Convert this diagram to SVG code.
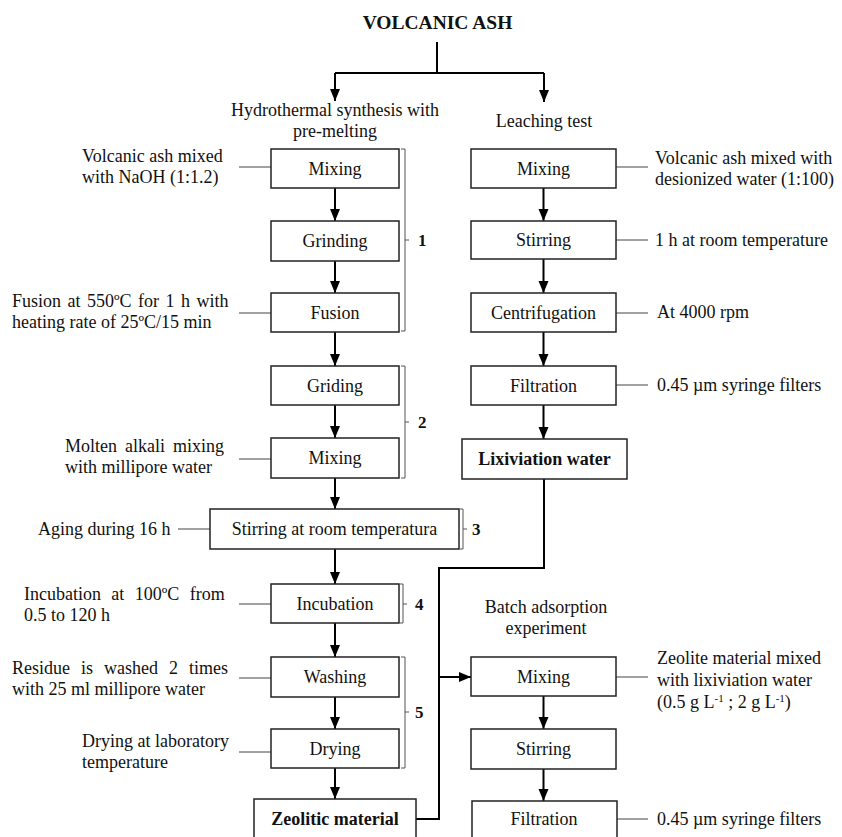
<svg xmlns="http://www.w3.org/2000/svg" width="842" height="837" viewBox="0 0 842 837">
<defs>
<style>
text{font-family:"Liberation Serif","Times New Roman",serif;font-size:18px;fill:#111}
.c{text-anchor:middle}
.b{font-weight:bold}
.num{font-weight:bold;font-size:17px}
.box{fill:#fff;stroke:#222;stroke-width:1.5}
.arr{fill:none;stroke:#000;stroke-width:2}
.thin{fill:none;stroke:#444;stroke-width:1}
.br{fill:none;stroke:#555;stroke-width:1}
</style>
<marker id="ah" markerUnits="userSpaceOnUse" markerWidth="12" markerHeight="12" viewBox="0 0 12 12" refX="12" refY="6" orient="auto">
<path d="M0,1 L12,6 L0,11 Z" fill="#000"/>
</marker>
</defs>
<rect width="842" height="837" fill="#fff"/>

<text class="c b" x="437.5" y="29" style="font-size:19.5px">VOLCANIC ASH</text>
<text class="c" x="335" y="116">Hydrothermal synthesis with</text>
<text class="c" x="335" y="137">pre-melting</text>
<text class="c" x="544" y="127">Leaching test</text>
<text class="c" x="546" y="613">Batch adsorption</text>
<text class="c" x="546" y="634">experiment</text>

<g id="connectors">
<path class="arr" d="M437,42 V73 M335,73 H544"/>
<path class="arr" marker-end="url(#ah)" d="M335,73 V101"/>
<path class="arr" marker-end="url(#ah)" d="M544,73 V102"/>
<path class="arr" marker-end="url(#ah)" d="M335,188 V221"/>
<path class="arr" marker-end="url(#ah)" d="M335,261 V293"/>
<path class="arr" marker-end="url(#ah)" d="M335,332 V366"/>
<path class="arr" marker-end="url(#ah)" d="M335,405 V438"/>
<path class="arr" marker-end="url(#ah)" d="M335,478 V509"/>
<path class="arr" marker-end="url(#ah)" d="M335,549 V584"/>
<path class="arr" marker-end="url(#ah)" d="M335,623 V657"/>
<path class="arr" marker-end="url(#ah)" d="M335,697 V729"/>
<path class="arr" marker-end="url(#ah)" d="M335,768 V799"/>
<path class="arr" marker-end="url(#ah)" d="M543.5,188 V221"/>
<path class="arr" marker-end="url(#ah)" d="M543.5,259 V293"/>
<path class="arr" marker-end="url(#ah)" d="M543.5,332 V366"/>
<path class="arr" marker-end="url(#ah)" d="M543.5,405 V439"/>
<path class="arr" d="M544,479 V568 H439 V819 H416"/>
<path class="arr" marker-end="url(#ah)" d="M439,677 H471"/>
<path class="arr" marker-end="url(#ah)" d="M543.5,696 V729"/>
<path class="arr" marker-end="url(#ah)" d="M543.5,769 V801"/>
<!-- annotation leaders -->
<path class="thin" d="M239,167 H271 M239,313 H271 M239,459 H271 M178,529 H210 M239,604 H271 M239,678 H271 M239,752 H271"/>
<path class="thin" d="M616,167 H648 M616,240 H648 M616,313 H648 M616,385 H648 M616,677 H648 M617,819 H648"/>
<!-- brackets -->
<path class="br" d="M401,149 H405 V331 H401 M405,240 H409"/>
<path class="br" d="M401,366 H405 V478 H401 M405,422 H409"/>
<path class="br" d="M460,509 H463 V549 H460 M463,529 H467"/>
<path class="br" d="M400,584 H403 V623 H400 M403,604 H407"/>
<path class="br" d="M401,657 H405 V768 H401 M405,712 H409"/>
</g>

<g id="n1"><rect class="box" x="271" y="149" width="128" height="39"/><text class="c" x="335" y="175">Mixing</text></g>
<g id="n2"><rect class="box" x="271" y="221" width="128" height="40"/><text class="c" x="335" y="247">Grinding</text></g>
<g id="n3"><rect class="box" x="271" y="293" width="128" height="39"/><text class="c" x="335" y="319">Fusion</text></g>
<g id="n4"><rect class="box" x="271" y="366" width="128" height="39"/><text class="c" x="335" y="392">Griding</text></g>
<g id="n5"><rect class="box" x="271" y="438" width="128" height="40"/><text class="c" x="335" y="464">Mixing</text></g>
<g id="n6"><rect class="box" x="210" y="509" width="249" height="40"/><text class="c" x="334.5" y="535">Stirring at room temperatura</text></g>
<g id="n7"><rect class="box" x="271" y="584" width="128" height="39"/><text class="c" x="335" y="610">Incubation</text></g>
<g id="n8"><rect class="box" x="271" y="657" width="128" height="40"/><text class="c" x="335" y="683">Washing</text></g>
<g id="n9"><rect class="box" x="271" y="729" width="128" height="39"/><text class="c" x="335" y="755">Drying</text></g>
<g id="n10"><rect class="box" x="254" y="799" width="162" height="44"/><text class="c b" x="335" y="825">Zeolitic material</text></g>

<g id="r1"><rect class="box" x="471" y="149" width="145" height="39"/><text class="c" x="543.5" y="175">Mixing</text></g>
<g id="r2"><rect class="box" x="471" y="221" width="145" height="38"/><text class="c" x="543.5" y="246">Stirring</text></g>
<g id="r3"><rect class="box" x="471" y="293" width="145" height="39"/><text class="c" x="543.5" y="319">Centrifugation</text></g>
<g id="r4"><rect class="box" x="471" y="366" width="145" height="39"/><text class="c" x="543.5" y="392">Filtration</text></g>
<g id="r5"><rect class="box" x="462" y="439" width="165" height="40"/><text class="c b" x="544.5" y="465">Lixiviation water</text></g>

<g id="b1"><rect class="box" x="471" y="657" width="145" height="39"/><text class="c" x="543.5" y="683">Mixing</text></g>
<g id="b2"><rect class="box" x="471" y="729" width="145" height="40"/><text class="c" x="543.5" y="755">Stirring</text></g>
<g id="b3"><rect class="box" x="472" y="801" width="145" height="42"/><text class="c" x="544" y="825">Filtration</text></g>

<g id="labels">
<text x="82" y="162">Volcanic ash mixed</text>
<text x="82" y="183">with NaOH (1:1.2)</text>
<text x="12" y="307" word-spacing="2">Fusion at 550ºC for 1 h with</text>
<text x="12" y="328">heating rate of 25ºC/15 min</text>
<text x="65" y="452" word-spacing="3.5">Molten alkali mixing</text>
<text x="65" y="473">with millipore water</text>
<text x="38" y="535">Aging during 16 h</text>
<text x="24" y="600" word-spacing="5.9">Incubation at 100ºC from</text>
<text x="24" y="621">0.5 to 120 h</text>
<text x="12" y="674" word-spacing="6.5">Residue is washed 2 times</text>
<text x="12" y="695">with 25 ml millipore water</text>
<text x="82" y="747">Drying at laboratory</text>
<text x="82" y="768">temperature</text>

<text x="655" y="164">Volcanic ash mixed with</text>
<text x="655" y="185">desionized water (1:100)</text>
<text x="655" y="246">1 h at room temperature</text>
<text x="657" y="318">At 4000 rpm</text>
<text x="657" y="391">0.45 µm syringe filters</text>
<text x="657" y="664">Zeolite material mixed</text>
<text x="657" y="686">with lixiviation water</text>
<text x="657" y="708">(0.5 g L<tspan dy="-6" style="font-size:11px">-1</tspan><tspan dy="6"> ; 2 g L</tspan><tspan dy="-6" style="font-size:11px">-1</tspan><tspan dy="6">)</tspan></text>
<text x="657" y="825">0.45 µm syringe filters</text>

<text class="num" x="418" y="246">1</text>
<text class="num" x="418" y="428">2</text>
<text class="num" x="472" y="535">3</text>
<text class="num" x="415" y="610">4</text>
<text class="num" x="415" y="718">5</text>
</g>
</svg>
